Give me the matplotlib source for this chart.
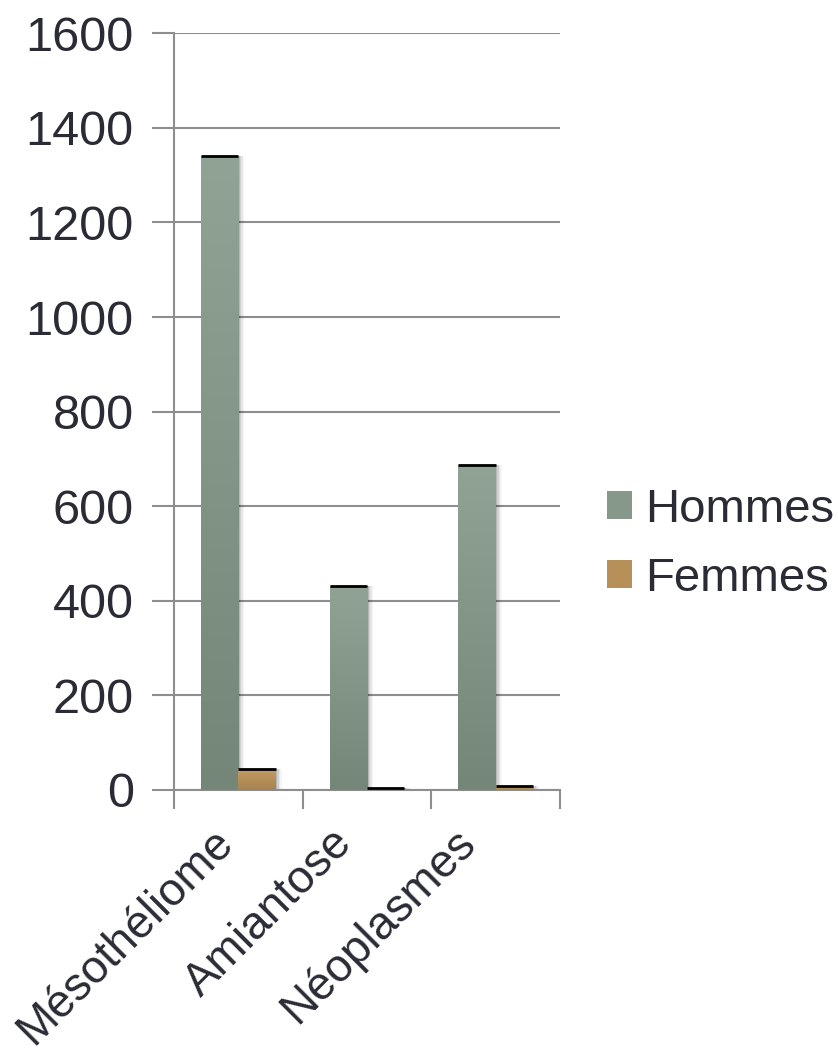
import numpy as np
import matplotlib.pyplot as plt
import matplotlib.transforms as mtransforms
from matplotlib.patches import Patch, Rectangle
from matplotlib.colors import LinearSegmentedColormap

categories = ['Mésothéliome', 'Amiantose', 'Néoplasmes']
hommes = [1340, 432, 688]
femmes = [44, 4, 8]
series_names = ['Hommes', 'Femmes']

plt.rcParams['font.family'] = ['Liberation Sans', 'DejaVu Sans']
text_color = '#2b2b36'
grid_color = '#8e8e8e'

cmap_h = LinearSegmentedColormap.from_list('h', ['#748678', '#90a394'])
cmap_f = LinearSegmentedColormap.from_list('f', ['#a6824f', '#c49c64'])

fig = plt.figure(figsize=(8.38, 10.61), dpi=100)
ax = fig.add_axes([0.2076, 0.2555, 0.4606, 0.7131])

x = np.arange(len(categories))
w = 0.29


def gradient_bar(ax, xc, h, cmap):
    # ombre portée à droite
    for k, a in enumerate([0.12, 0.09, 0.06, 0.04]):
        off = 0.012 * (k + 1)
        ax.add_patch(Rectangle((xc - w / 2 + off, 0), w, h, facecolor='black',
                               alpha=a, edgecolor='none', zorder=2))
    bar = ax.bar(xc, h, width=w, color='none', edgecolor='none', zorder=3)[0]
    grad = np.linspace(0, 1, 256).reshape(-1, 1)
    im = ax.imshow(grad, cmap=cmap, aspect='auto', origin='lower',
                   extent=[xc - w / 2, xc + w / 2, 0, h], zorder=3)
    im.set_clip_path(bar)
    ax.plot([xc - w / 2, xc + w / 2], [h, h], color='black', lw=2,
            zorder=4, solid_capstyle='butt')


for i in range(len(categories)):
    gradient_bar(ax, x[i] - w / 2, hommes[i], cmap_h)
    gradient_bar(ax, x[i] + w / 2, femmes[i], cmap_f)

ax.set_xlim(-0.5, len(categories) - 0.5)
ax.set_ylim(0, 1600)
ax.set_yticks(range(0, 1601, 200))
ax.tick_params(axis='y', labelsize=35, colors=grid_color, labelcolor=text_color,
               length=16, width=1.5, pad=13)
ax.set_xticks(x)
ax.set_xticklabels(categories, rotation=45, ha='right', rotation_mode='anchor',
                   fontsize=33, color=text_color)
ax.tick_params(axis='x', length=0, pad=22)
# décalage horizontal des étiquettes inclinées (en pixels)
for lab, dx in zip(ax.get_xticklabels(), [-27, -37, -43]):
    shift = mtransforms.ScaledTranslation(dx / 100, 0, fig.dpi_scale_trans)
    lab.set_transform(lab.get_transform() + shift)
ax.set_xticks(np.arange(-0.5, len(categories), 1), minor=True)
ax.tick_params(axis='x', which='minor', length=14, width=1.5, colors=grid_color)

ax.yaxis.grid(True, color=grid_color, lw=1.5)
ax.set_axisbelow(True)
for s in ['top', 'right']:
    ax.spines[s].set_visible(False)
for s in ['left', 'bottom']:
    ax.spines[s].set_color(grid_color)
    ax.spines[s].set_linewidth(1.5)

handles = [Patch(facecolor='#85988a', edgecolor='none'),
           Patch(facecolor='#b68f59', edgecolor='none')]
fig.legend(handles, series_names, loc='center left',
           bbox_to_anchor=(0.7243, 0.487), frameon=False, fontsize=34,
           labelcolor=text_color, handlelength=0.53, handleheight=0.53,
           handletextpad=0.28, labelspacing=0.52, borderpad=0,
           borderaxespad=0)

fig.savefig('out.png', dpi=100)
